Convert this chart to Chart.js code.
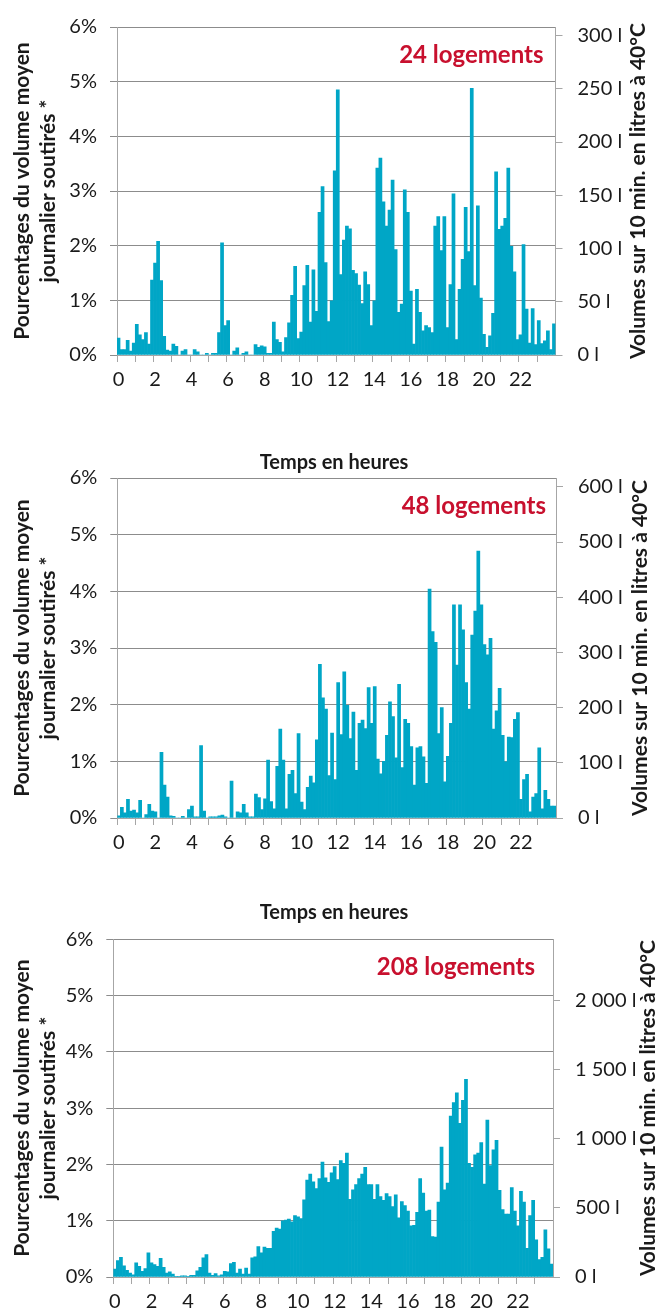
<!DOCTYPE html>
<html><head><meta charset="utf-8">
<script src="https://cdn.jsdelivr.net/npm/chart.js@4"></script>
<style>
html,body{margin:0;padding:0;background:#fff;width:668px;height:1314px;overflow:hidden}
.box{position:absolute;left:0;width:668px}
canvas{display:block}
</style></head>
<body>
<div class="box" style="top:0px;height:440px"><canvas id="c1" width="668" height="440"></canvas></div>
<div class="box" style="top:440px;height:440px"><canvas id="c2" width="668" height="440"></canvas></div>
<div class="box" style="top:880px;height:434px"><canvas id="c3" width="668" height="434"></canvas></div>
<script>
// ---------- DATA ----------
const hourLabels = ['0','2','4','6','8','10','12','14','16','18','20','22'];
const slotsPerLabel = 12;   // 10-min slots between labelled hours
const slotsPerHour = 6;
const nSlots = 144;

const pct24 = [
0.31,0.10,0.10,0.27,0.07,0.22,0.56,0.37,0.28,0.41,0.20,1.37,1.68,2.08,1.36,0.34,0.09,0.07,0.20,0.16,0,0.07,0.10,0,
0,0.10,0.06,0,0,0.03,0,0.03,0.03,0.41,2.05,0.54,0.63,0,0.07,0.13,0,0.03,0.06,0,0,0.19,0.14,0.17,
0.15,0.03,0.03,0.60,0.28,0.23,0.06,0.32,0.59,1.09,1.62,0.30,0.42,1.27,1.64,0.60,1.56,0.80,2.61,3.08,1.69,0.61,0.99,3.37,
4.85,1.47,2.10,2.36,2.31,1.55,1.49,1.28,0.94,1.52,1.29,0.54,0.99,3.42,3.60,2.80,2.36,2.65,3.20,1.93,0.78,0.93,3.02,2.61,
1.17,0.20,1.20,0.78,0.44,0.54,0.50,0.41,2.36,2.53,1.91,2.53,0.50,1.29,2.95,0.28,1.20,1.75,2.70,1.89,4.88,1.27,2.73,1.04,
0.38,0.14,0.35,0.76,3.35,2.30,2.36,2.50,3.42,1.99,1.52,0.28,0.37,2.02,0.84,0.22,0.85,0.19,0.63,0.21,0.26,0.44,0.10,0.57
];
const pct48 = [
0.04,0.19,0.09,0.33,0.12,0.14,0.09,0.31,0,0.06,0.24,0.12,0.11,0,1.16,0.58,0.37,0.04,0.03,0,0,0.03,0,0.15,
0.21,0.02,0.02,1.28,0.12,0,0.02,0.02,0.02,0.04,0.05,0.02,0,0.65,0,0.11,0.09,0.24,0.09,0.02,0.02,0.42,0.36,0.15,
0.34,1.02,0.29,0.16,0.91,1.57,1.02,0.16,0.77,0.84,0.43,1.49,0.28,0.15,0.54,0.74,0.62,1.38,2.71,2.12,1.92,0.75,1.50,0.68,
2.39,1.47,2.58,1.99,1.40,1.87,0.84,1.67,1.73,1.58,2.30,1.67,2.32,1.04,0.78,1.00,1.46,2.05,1.79,1.06,2.36,0.89,1.74,1.67,
1.26,0.58,1.24,1.26,1.08,0.61,4.04,3.29,3.10,1.49,1.95,0.64,1.09,1.67,3.76,2.70,3.76,3.32,2.39,1.92,3.23,3.65,4.71,3.76,
3.06,2.88,3.17,1.57,1.89,2.29,1.46,0.99,1.43,1.42,1.74,1.86,0.33,0.68,0.77,0.11,0.37,0.43,1.24,0.16,0.49,0.33,0.21,0.21
];
const pct208 = [
0.14,0.29,0.35,0.20,0.12,0.07,0.04,0.25,0.19,0.10,0.15,0.43,0.25,0.22,0.19,0.33,0.17,0.07,0.09,0.05,0.01,0.01,0.02,0.02,
0.01,0.03,0.03,0.11,0.17,0.34,0.40,0.07,0.03,0.06,0.02,0.04,0.10,0.09,0.24,0.26,0.07,0.14,0.05,0.16,0.05,0.34,0.36,0.54,
0.43,0.53,0.51,0.51,0.81,0.87,0.85,1.00,1.01,1.03,0.98,1.09,1.07,1.04,1.37,1.72,1.83,1.69,1.57,1.75,2.04,1.76,1.68,1.85,
1.96,1.73,2.07,2.02,2.20,1.38,1.55,1.64,1.75,1.83,1.95,1.64,1.64,1.38,1.64,1.43,1.36,1.48,1.43,1.25,1.46,1.05,1.34,1.27,
1.17,0.91,0.92,1.15,1.75,1.49,1.17,1.19,0.72,0.71,1.33,2.31,1.55,1.67,2.86,3.10,3.27,2.73,3.14,3.51,2.02,1.95,2.17,2.20,
2.39,1.65,2.79,1.98,2.26,2.43,1.54,1.20,1.12,1.12,1.59,1.17,0.91,1.52,1.33,0.51,1.09,1.36,0.66,0.31,0.35,0.84,0.50,0.23
];

const pctTicks = [0,1,2,3,4,5,6];
const pctMax = 6;
const litreTicks24 = [0,50,100,150,200,250,300];
const litreMax24 = 308;
const litreTicks48 = [0,100,200,300,400,500,600];
const litreMax48 = 616;
const litreTicks208 = [0,500,1000,1500,2000];
const litreMax208 = 2440;

const panelLabels = ['24 logements','48 logements','208 logements'];
const xTitle = 'Temps en heures';
const leftTitle = ['Pourcentages du volume moyen','journalier soutirés *'];
const rightTitle = 'Volumes sur 10 min. en litres à 40°C';

// ---------- STYLE ----------
const FONT = "Lato, 'Open Sans', sans-serif";
const BAR = '#00a6c6';
const GRID = '#8c8c8c';
const AXIS = '#a6a6a6';
const TXT = '#1a1a1a';
const RED = '#c8102e';
Chart.defaults.font.family = FONT;

const categories = Array.from({length: nSlots}, (_, i) => i % slotsPerLabel === 0 ? hourLabels[i / slotsPerLabel] : '');

function fmtLitres(v) {
  return String(v).replace(/\B(?=(\d{3})+(?!\d))/g, '\u00a0') + ' l';
}

const panelText = {
  id: 'panelText',
  afterDraw(chart, args, o) {
    const {ctx, chartArea} = chart;
    ctx.save();
    ctx.fillStyle = RED;
    ctx.font = 'bold 24px ' + FONT;
    ctx.textAlign = 'right';
    ctx.textBaseline = 'middle';
    ctx.fillText(o.label, chartArea.right - o.labelRight, chartArea.top + 28);
    ctx.fillStyle = TXT;
    ctx.font = 'bold 21px ' + FONT;
    ctx.textAlign = 'center';
    ctx.translate(o.rightTitleX, (chartArea.top + chartArea.bottom) / 2);
    ctx.rotate(-Math.PI / 2);
    ctx.fillText(rightTitle, 0, 0);
    ctx.restore();
  }
};

function build(id, c) {
  return new Chart(document.getElementById(id), {
    type: 'bar',
    data: {
      labels: categories,
      datasets: [{
        data: c.values, backgroundColor: BAR, borderWidth: 0,
        barPercentage: 1, categoryPercentage: 1, yAxisID: 'y'
      }]
    },
    options: {
      responsive: false, animation: false, events: [],
      layout: {padding: c.padding},
      plugins: {
        legend: {display: false},
        tooltip: {enabled: false},
        title: c.title ? {
          display: true, text: xTitle, color: TXT,
          font: {family: FONT, size: 20, weight: 'bold', lineHeight: 1.2},
          padding: c.titlePad
        } : {display: false},
        panelText: {label: c.label, labelRight: c.labelRight, rightTitleX: c.rightTitleX}
      },
      scales: {
        x: {
          type: 'category', offset: true,
          grid: {
            offset: true, drawOnChartArea: false, drawTicks: true, tickLength: 7,
            color: ctx => ctx.index % slotsPerHour === 0 ? AXIS : 'rgba(0,0,0,0)'
          },
          border: {display: true, color: AXIS},
          ticks: {autoSkip: false, maxRotation: 0, minRotation: 0, padding: 6, color: TXT, font: {size: 20}},
          afterFit: s => { s.height = c.xh; }
        },
        y: {
          position: 'left', min: 0, max: pctMax,
          afterBuildTicks: s => { s.ticks = pctTicks.map(v => ({value: v})); },
          ticks: {callback: v => v + '%', padding: 13, color: TXT, font: {size: 20}},
          grid: {color: GRID, tickLength: 7},
          border: {display: true, color: AXIS},
          title: {display: true, text: leftTitle, color: TXT,
                  font: {size: 21, weight: 'bold', lineHeight: 1.2}, padding: {top: 10, bottom: 0}},
          afterFit: s => { s.width = c.left; }
        },
        y2: {
          position: 'right', min: 0, max: c.litreMax,
          afterBuildTicks: s => { s.ticks = c.litreTicks.map(v => ({value: v})); },
          ticks: {callback: v => fmtLitres(v), padding: 15, color: TXT, font: {size: 20}},
          grid: {drawOnChartArea: false, tickLength: 7, color: AXIS},
          border: {display: true, color: AXIS},
          afterFit: s => { s.width = 668 - c.right; }
        }
      }
    },
    plugins: [panelText]
  });
}

build('c1', {values: pct24, litreTicks: litreTicks24, litreMax: litreMax24, label: panelLabels[0],
  padding: {top: 15, bottom: 45, left: 0, right: 0}, left: 117, right: 555.5, xh: 40,
  title: false, labelRight: 12, rightTitleX: 638});
build('c2', {values: pct48, litreTicks: litreTicks48, litreMax: litreMax48, label: panelLabels[1],
  padding: {top: 0, bottom: 22, left: 0, right: 0}, left: 117.3, right: 556, xh: 40,
  title: true, titlePad: {top: 11, bottom: 3}, labelRight: 10, rightTitleX: 640});
build('c3', {values: pct208, litreTicks: litreTicks208, litreMax: litreMax208, label: panelLabels[2],
  padding: {top: 0, bottom: 0, left: 0, right: 0}, left: 113.3, right: 553, xh: 37,
  title: true, titlePad: {top: 21, bottom: 14.3}, labelRight: 18, rightTitleX: 648});
</script>
</body></html>
